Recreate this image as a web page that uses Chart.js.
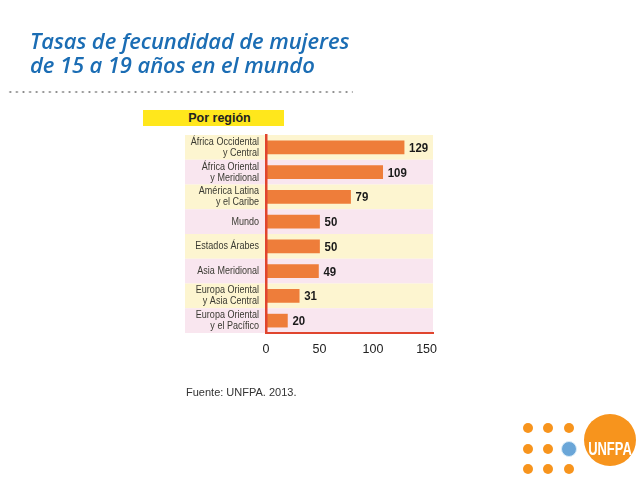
<!DOCTYPE html>
<html>
<head>
<meta charset="utf-8">
<script src="https://cdn.jsdelivr.net/npm/chart.js@4"></script>
<style>
  body { margin: 0; background: #fff; }
  #wrap { position: relative; width: 638px; height: 479px; overflow: hidden; }
  #c { position: absolute; left: 0; top: 0; }
  .title { position: absolute; left: 30px; top: 28px; font-family: "Open Sans", sans-serif; font-style: italic; font-weight: 600;
           font-size: 22px; line-height: 24px; color: #1b6db4; white-space: nowrap; letter-spacing: -0.1px; }
  .dots { position: absolute; left: 7px; top: 91px; width: 346px; height: 2px;
          background-image: radial-gradient(circle, #8a8a8a 0.9px, transparent 1.2px); background-size: 6.6px 2px; }
  .tag { position: absolute; left: 143px; top: 110px; width: 141px; height: 16px; background: #ffe71c;
         font: bold 12.5px "Liberation Sans", Arial, sans-serif; color: #222; text-align: center; line-height: 16px; text-indent: 12px; }
  .src { position: absolute; left: 186px; top: 386px; font: 11px "Liberation Sans", Arial, sans-serif; color: #333; }
  .dot { position: absolute; width: 10px; height: 10px; border-radius: 50%; background: #f7941d; }
  .un { position: absolute; left: 561px; top: 441px; width: 16px; height: 16px; border-radius: 50%; background: #6aa6d8;
        border: 1.5px solid #d8ebf7; box-sizing: border-box; }
  .circ { position: absolute; left: 584px; top: 414px; width: 52px; height: 52px; border-radius: 50%; background: #f7941d; }
  .unfpa { position: absolute; left: 575px; top: 439px; width: 70px; text-align: center; font: bold 18px "Liberation Sans", Arial, sans-serif;
           color: #fff; transform: scaleX(0.72); transform-origin: 50% 50%; line-height: 20px; }
</style>
</head>
<body>
<div id="wrap">
  <canvas id="c" width="638" height="479"></canvas>
  <div class="title">Tasas de fecundidad de mujeres<br>de 15 a 19 años en el mundo</div>
  <div class="dots"></div>
  <div class="tag">Por región</div>
  <div class="src">Fuente: UNFPA. 2013.</div>
  <div class="dot" style="left:523px;top:423px"></div>
  <div class="dot" style="left:543px;top:423px"></div>
  <div class="dot" style="left:564px;top:423px"></div>
  <div class="dot" style="left:523px;top:444px"></div>
  <div class="dot" style="left:543px;top:444px"></div>
  <div class="dot" style="left:523px;top:464px"></div>
  <div class="dot" style="left:543px;top:464px"></div>
  <div class="dot" style="left:564px;top:464px"></div>
  <div class="circ"></div>
  <div class="unfpa">UNFPA</div>
  <div class="un"></div>
</div>
<script>
const regions = [
  ['África Occidental', 'y Central'],
  ['África Oriental', 'y Meridional'],
  ['América Latina', 'y el Caribe'],
  'Mundo',
  'Estados Árabes',
  'Asia Meridional',
  ['Europa Oriental', 'y Asia Central'],
  ['Europa Oriental', 'y el Pacífico']
];
const rates = [129, 109, 79, 50, 50, 49, 31, 20];
const xTicks = [0, 50, 100, 150];

const bandColors = ['#fdf5d0', '#f9e6ef'];

// alternating row bands behind the bars, starting left of the labels
const bandsPlugin = {
  id: 'bands',
  beforeDraw(chart) {
    const ctx = chart.ctx;
    const area = chart.chartArea;
    const y = chart.scales.y;
    const step = (area.bottom - area.top) / regions.length;
    ctx.save();
    regions.forEach((r, i) => {
      const cy = y.getPixelForValue(i);
      ctx.fillStyle = bandColors[i % 2];
      ctx.fillRect(185, cy - step / 2, area.right - 185, step);
    });
    ctx.restore();
  }
};

// narrow region labels (no condensed font installed, so squeeze Liberation Sans)
const labelPlugin = {
  id: 'narrowLabels',
  afterDraw(chart) {
    const ctx = chart.ctx;
    const y = chart.scales.y;
    const right = chart.chartArea.left - 7;
    const sx = 0.82;
    ctx.save();
    ctx.font = '11px "Liberation Sans", Arial, sans-serif';
    ctx.fillStyle = '#3a3a32';
    ctx.textAlign = 'right';
    ctx.textBaseline = 'middle';
    ctx.scale(sx, 1);
    chart.data.labels.forEach((lab, i) => {
      const lines = Array.isArray(lab) ? lab : [lab];
      const cy = y.getPixelForValue(i);
      const lh = 11;
      lines.forEach((t, k) => {
        ctx.fillText(t, right / sx, cy + (k - (lines.length - 1) / 2) * lh);
      });
    });
    ctx.restore();
  }
};

// value at the end of each bar
const valuePlugin = {
  id: 'values',
  afterDatasetsDraw(chart) {
    const ctx = chart.ctx;
    const meta = chart.getDatasetMeta(0);
    const sx = 0.88;
    ctx.save();
    ctx.font = 'bold 13px "Liberation Sans", Arial, sans-serif';
    ctx.fillStyle = '#1a1a1a';
    ctx.textBaseline = 'middle';
    ctx.scale(sx, 1);
    meta.data.forEach((bar, i) => {
      ctx.fillText(rates[i], (bar.x + 5) / sx, bar.y + 1);
    });
    ctx.restore();
  }
};

const config = {
  type: 'bar',
  data: {
    labels: regions,
    datasets: [{
      data: rates,
      backgroundColor: '#ee7d3a',
      barThickness: 13
    }]
  },
  options: {
    indexAxis: 'y',
    responsive: false,
    animation: false,
    layout: {
      padding: { top: 135, left: 185, right: 205, bottom: 122 }
    },
    plugins: {
      legend: { display: false },
      tooltip: { enabled: false }
    },
    scales: {
      x: {
        min: 0,
        max: 156,
        afterBuildTicks(scale) { scale.ticks = xTicks.map(v => ({ value: v })); },
        afterFit(scale) { scale.height = 24; },
        grid: { display: false, drawTicks: false },
        border: { color: '#e0452e', width: 2 },
        ticks: { padding: 9, color: '#222', font: { family: 'Liberation Sans', size: 12.5 } }
      },
      y: {
        afterFit(scale) { scale.width = 81; },
        grid: { display: false, drawTicks: false },
        border: { color: '#e0452e', width: 2.5, z: 1 },
        ticks: { display: false, autoSkip: false }
      }
    }
  },
  plugins: [bandsPlugin, labelPlugin, valuePlugin]
};

const myChart = new Chart(document.getElementById('c'), config);
</script>
</body>
</html>
